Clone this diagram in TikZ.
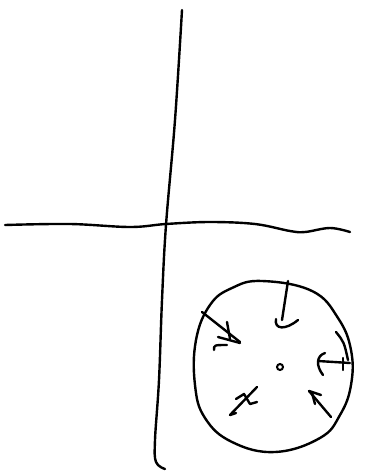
\documentclass[tikz,border=0pt]{standalone}
\begin{document}
\begin{tikzpicture}[x=1pt,y=-1pt,
  pen/.style={line width=2.4pt,line cap=round,line join=round,black}]
\useasboundingbox (0,0) rectangle (370,474);
% vertical axis
\draw[pen] plot[smooth,tension=0.6] coordinates {(182,10) (175,120) (166,225) (162,300) (159,380) (155,440) (156,462) (165,469)};
% horizontal axis
\draw[pen] plot[smooth,tension=0.6] coordinates {(5,225) (70,224) (130,227) (166,224) (210,222) (255,224) (290,231) (305,232) (330,228) (350,232)};
% big circle
\draw[pen] plot[smooth cycle,tension=0.7] coordinates {(262,281) (312,291) (338,318) (351,350) (351,385) (340,415) (320,438) (275,452) (232,442) (205,418) (195,385) (196,340) (210,305) (232,288)};
% center dot
\node[draw,circle,line width=2pt,minimum size=6pt,inner sep=0pt] (c) at (280,367) {};
% arrow 1 (top-left)
\draw[pen] (202,312) -- (240,342);
\draw[pen] (227,322) -- (230,339);
\draw[pen] (218,337) -- (240,343);
\draw[pen] (214,350) .. controls (214,345) .. (227,345);
% arrow 2 (top)
\draw[pen] (288,281) -- (282,320);
\draw[pen] (276,319) .. controls (274,330) and (286,330) .. (298,320);
% arrow 3 (right)
\draw[pen] (350,363) -- (318,361);
\draw[pen] (325,353) .. controls (316,356) and (316,366) .. (323,375);
\draw[pen] (336,332) .. controls (344,342) .. (348,360);
\draw[pen] (343,358) -- (343,370);
% arrow 4 (bottom-left)
\draw[pen] (230,415) -- (257,387);
\draw[pen] (236,399) -- (244,394) -- (250,404) -- (257,402);
\draw[pen] (230,415) -- (236,413);
% arrow 5 (bottom-right)
\draw[pen] (331,417) -- (309,391);
\draw[pen] (309,391) -- (321,395);
\draw[pen] (312,393) -- (315,404);
\end{tikzpicture}
\end{document}
